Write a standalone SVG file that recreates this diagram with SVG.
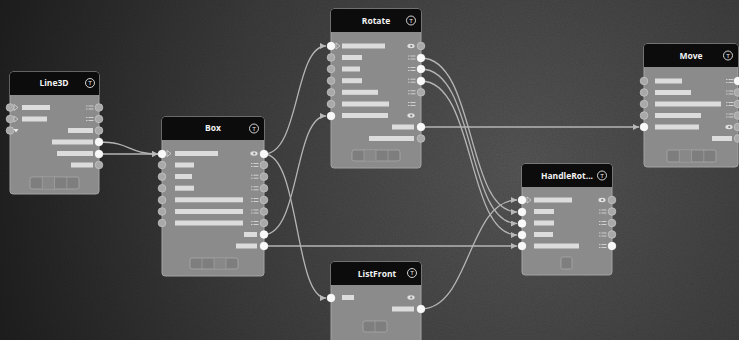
<svg xmlns="http://www.w3.org/2000/svg" xmlns:xlink="http://www.w3.org/1999/xlink" width="739" height="340" viewBox="0 0 739 340">
<defs>
<radialGradient id="bg" cx="520" cy="170" r="560" gradientUnits="userSpaceOnUse">
<stop offset="0" stop-color="#545454"/>
<stop offset="0.55" stop-color="#3a3a3a"/>
<stop offset="1" stop-color="#1c1c1c"/>
</radialGradient>
<filter id="noise" x="0" y="0" width="100%" height="100%">
<feTurbulence type="fractalNoise" baseFrequency="0.9" numOctaves="2" seed="3"/>
<feColorMatrix type="matrix" values="0 0 0 0 0  0 0 0 0 0  0 0 0 0 0  0 0 0 -1.6 1.05"/>
</filter>
<marker id="arr" markerUnits="userSpaceOnUse" markerWidth="7" markerHeight="7" refX="6" refY="3" orient="auto">
<path d="M0,0 L6,3 L0,6 z" fill="#b8b8b8"/>
</marker>
<g id="list">
<rect x="0" y="-2" width="1.5" height="1" fill="#d0d0d0"/>
<rect x="2.5" y="-2" width="5" height="1" fill="#d0d0d0"/>
<rect x="0" y="1" width="1.5" height="1" fill="#d0d0d0"/>
<rect x="2.5" y="1" width="5" height="1" fill="#d0d0d0"/>
</g>
<g id="eye">
<ellipse cx="0" cy="0" rx="3.6" ry="2.2" fill="#e0e0e0"/>
<circle cx="0.3" cy="0" r="1.1" fill="#777"/>
</g>
<path id="tri" d="M-2,-3 L2,0 L-2,3 z" fill="none" stroke="#d8d8d8" stroke-width="0.8"/>
</defs>
<style>
.node{fill:#8b8b8b;stroke:#a3a3a3;stroke-width:1}
.hdr{fill:#0c0c0c}
.title{font-family:"Open Sans","Liberation Sans",sans-serif;font-size:8.5px;font-weight:bold;fill:#f2f2f2;text-anchor:middle}
.ticon{fill:none;stroke:#e8e8e8;stroke-width:0.9}
.tt{font-family:"Liberation Sans",sans-serif;font-size:6px;fill:#e8e8e8;text-anchor:middle}
.bar{fill:#dcdcdc}
.p{fill:#a9a9a9;stroke:#c4c4c4;stroke-width:0.8}
.pw{fill:#f8f8f8;stroke:#ffffff;stroke-width:0.8}
.foot{fill:#7e7e7e;stroke:#a8a8a8;stroke-width:0.8}
.fc{fill:#888888}
.wire{fill:none;stroke:#b5b5b5;stroke-width:1.3}
</style>
<rect x="0" y="0" width="739" height="340" fill="url(#bg)"/>
<rect x="0" y="0" width="739" height="340" filter="url(#noise)" opacity="0.12"/>

<g id="connectors">
<path class="wire" d="M99,142 C131,142 128,154 158,154" marker-end="url(#arr)"/>
<path class="wire" d="M99,154 L158,154" marker-end="url(#arr)"/>
<path class="wire" d="M264,154 C300,154 294,46 326,46" marker-end="url(#arr)"/>
<path class="wire" d="M264,154 C300,154 294,298 326,298" marker-end="url(#arr)"/>
<path class="wire" d="M264,234.5 C300,234.5 294,116 326,116" marker-end="url(#arr)"/>
<path class="wire" d="M264,246 L517,246" marker-end="url(#arr)"/>
<path class="wire" d="M421,127 L639,127" marker-end="url(#arr)"/>
<path class="wire" d="M421,58 C476,58 466,212 517,212" marker-end="url(#arr)"/>
<path class="wire" d="M421,69 C476,69 466,223.5 517,223.5" marker-end="url(#arr)"/>
<path class="wire" d="M421,81 C476,81 466,235 517,235" marker-end="url(#arr)"/>
<path class="wire" d="M421,309 C470,309 468,200 517,200" marker-end="url(#arr)"/>
</g>

<g id="line3d">
<rect class="node" x="10" y="72" width="89" height="122" rx="3"/>
<path class="hdr" d="M10,95 V75 a3,3 0 0 1 3,-3 H96 a3,3 0 0 1 3,3 V95 z"/>
<text class="title" x="54" y="86">Line3D</text>
<circle class="ticon" cx="90" cy="83" r="4.5"/><text class="tt" x="90" y="85.2">T</text>
<rect class="bar" x="22" y="105" width="28" height="5"/>
<rect class="bar" x="22" y="116.5" width="25" height="5"/>
<use xlink:href="#tri" x="16" y="107.5"/>
<use xlink:href="#tri" x="16" y="119"/>
<path d="M13.5,129 L18.5,129 L16,132.5 z" fill="#e8e8e8"/>
<rect class="bar" x="68" y="128" width="25" height="5"/>
<rect class="bar" x="52" y="139.5" width="41" height="5"/>
<rect class="bar" x="57" y="151" width="36" height="5"/>
<rect class="bar" x="71" y="162.5" width="22" height="5"/>
<use xlink:href="#list" x="86" y="107.5"/>
<use xlink:href="#list" x="86" y="119"/>
<circle class="p" cx="10" cy="107.5" r="3.8"/>
<circle class="p" cx="10" cy="119" r="3.8"/>
<circle class="p" cx="10" cy="130.5" r="3.8"/>
<circle class="p" cx="99" cy="107.5" r="3.8"/>
<circle class="p" cx="99" cy="119" r="3.8"/>
<circle class="p" cx="99" cy="130.5" r="3.8"/>
<circle class="pw" cx="99" cy="142" r="3.8"/>
<circle class="pw" cx="99" cy="154" r="3.8"/>
<circle class="p" cx="99" cy="165" r="3.8"/>
<rect class="foot" x="30" y="177" width="49" height="12" rx="2"/>
<rect class="fc" x="42.3" y="177.5" width="12.2" height="11"/>
<line x1="42.3" y1="177" x2="42.3" y2="189" stroke="#a8a8a8" stroke-width="0.6"/>
<line x1="54.5" y1="177" x2="54.5" y2="189" stroke="#a8a8a8" stroke-width="0.6"/>
<line x1="66.8" y1="177" x2="66.8" y2="189" stroke="#a8a8a8" stroke-width="0.6"/>
</g>

<g id="box">
<rect class="node" x="162" y="117" width="102" height="159" rx="3"/>
<path class="hdr" d="M162,140 V120 a3,3 0 0 1 3,-3 H261 a3,3 0 0 1 3,3 V140 z"/>
<text class="title" x="213" y="131">Box</text>
<circle class="ticon" cx="254" cy="128.5" r="4.5"/><text class="tt" x="254" y="130.7">T</text>
<use xlink:href="#tri" x="169" y="153.5"/>
<rect class="bar" x="175" y="151" width="43" height="5"/>
<rect class="bar" x="175" y="162.5" width="19" height="5"/>
<rect class="bar" x="175" y="174" width="17" height="5"/>
<rect class="bar" x="175" y="185.7" width="19" height="5"/>
<rect class="bar" x="175" y="197.3" width="68" height="5"/>
<rect class="bar" x="175" y="209" width="68" height="5"/>
<rect class="bar" x="175" y="220.5" width="68" height="5"/>
<rect class="bar" x="244" y="232" width="13" height="5"/>
<rect class="bar" x="236" y="243.5" width="21" height="5"/>
<use xlink:href="#eye" x="254" y="153.5"/>
<use xlink:href="#list" x="251" y="165"/>
<use xlink:href="#list" x="251" y="176.7"/>
<use xlink:href="#list" x="251" y="188.3"/>
<use xlink:href="#list" x="251" y="200"/>
<use xlink:href="#list" x="251" y="211.5"/>
<use xlink:href="#list" x="251" y="223"/>
<circle class="pw" cx="162" cy="154" r="3.8"/>
<circle class="p" cx="162" cy="165" r="3.8"/>
<circle class="p" cx="162" cy="176.7" r="3.8"/>
<circle class="p" cx="162" cy="188.3" r="3.8"/>
<circle class="p" cx="162" cy="200" r="3.8"/>
<circle class="p" cx="162" cy="211.5" r="3.8"/>
<circle class="p" cx="162" cy="223" r="3.8"/>
<circle class="pw" cx="264" cy="154" r="3.8"/>
<circle class="p" cx="264" cy="165" r="3.8"/>
<circle class="p" cx="264" cy="176.7" r="3.8"/>
<circle class="p" cx="264" cy="188.3" r="3.8"/>
<circle class="p" cx="264" cy="200" r="3.8"/>
<circle class="p" cx="264" cy="211.5" r="3.8"/>
<circle class="p" cx="264" cy="223" r="3.8"/>
<circle class="pw" cx="264" cy="234.5" r="3.8"/>
<circle class="pw" cx="264" cy="246" r="3.8"/>
<rect class="foot" x="190" y="258" width="48" height="11" rx="2"/>
<rect class="fc" x="214" y="258.5" width="12" height="10"/>
<line x1="202" y1="258" x2="202" y2="269" stroke="#a8a8a8" stroke-width="0.6"/>
<line x1="214" y1="258" x2="214" y2="269" stroke="#a8a8a8" stroke-width="0.6"/>
<line x1="226" y1="258" x2="226" y2="269" stroke="#a8a8a8" stroke-width="0.6"/>
</g>

<g id="rotate">
<rect class="node" x="331" y="9" width="90" height="159" rx="3"/>
<path class="hdr" d="M331,32 V12 a3,3 0 0 1 3,-3 H418 a3,3 0 0 1 3,3 V32 z"/>
<text class="title" x="376" y="23.5">Rotate</text>
<circle class="ticon" cx="411" cy="20.5" r="4.5"/><text class="tt" x="411" y="22.7">T</text>
<use xlink:href="#tri" x="338" y="46"/>
<rect class="bar" x="342" y="43.5" width="43" height="5"/>
<rect class="bar" x="342" y="55" width="20" height="5"/>
<rect class="bar" x="342" y="66.5" width="18" height="5"/>
<rect class="bar" x="342" y="78.2" width="20" height="5"/>
<rect class="bar" x="342" y="89.8" width="36" height="5"/>
<rect class="bar" x="342" y="101.5" width="47" height="5"/>
<rect class="bar" x="342" y="113" width="46" height="5"/>
<rect class="bar" x="392" y="124.5" width="22" height="5"/>
<rect class="bar" x="369" y="136" width="45" height="5"/>
<use xlink:href="#eye" x="411" y="46"/>
<use xlink:href="#list" x="408" y="57.5"/>
<use xlink:href="#list" x="408" y="69"/>
<use xlink:href="#list" x="408" y="80.7"/>
<use xlink:href="#list" x="408" y="92.3"/>
<use xlink:href="#list" x="408" y="104"/>
<use xlink:href="#eye" x="411" y="115.5"/>
<circle class="pw" cx="331" cy="46" r="3.8"/>
<circle class="p" cx="331" cy="57.5" r="3.8"/>
<circle class="p" cx="331" cy="69" r="3.8"/>
<circle class="p" cx="331" cy="80.7" r="3.8"/>
<circle class="p" cx="331" cy="92.3" r="3.8"/>
<circle class="p" cx="331" cy="104" r="3.8"/>
<circle class="pw" cx="331" cy="116" r="3.8"/>
<circle class="p" cx="421" cy="46" r="3.8"/>
<circle class="pw" cx="421" cy="58" r="3.8"/>
<circle class="pw" cx="421" cy="69" r="3.8"/>
<circle class="pw" cx="421" cy="81" r="3.8"/>
<circle class="p" cx="421" cy="92.3" r="3.8"/>
<circle class="pw" cx="421" cy="127" r="3.8"/>
<circle class="p" cx="421" cy="138.5" r="3.8"/>
<rect class="foot" x="352" y="150" width="48" height="11" rx="2"/>
<rect class="fc" x="364" y="150.5" width="12" height="10"/>
<line x1="364" y1="150" x2="364" y2="161" stroke="#a8a8a8" stroke-width="0.6"/>
<line x1="376" y1="150" x2="376" y2="161" stroke="#a8a8a8" stroke-width="0.6"/>
<line x1="388" y1="150" x2="388" y2="161" stroke="#a8a8a8" stroke-width="0.6"/>
</g>

<g id="move">
<rect class="node" x="644" y="44" width="94" height="123" rx="3"/>
<path class="hdr" d="M644,67 V47 a3,3 0 0 1 3,-3 H735 a3,3 0 0 1 3,3 V67 z"/>
<text class="title" x="691" y="58.5">Move</text>
<circle class="ticon" cx="728" cy="55.5" r="4.5"/><text class="tt" x="728" y="57.7">T</text>
<rect class="bar" x="655" y="78.5" width="27" height="5"/>
<rect class="bar" x="655" y="90" width="36" height="5"/>
<rect class="bar" x="655" y="101.5" width="66" height="5"/>
<rect class="bar" x="655" y="113" width="46" height="5"/>
<rect class="bar" x="655" y="124.5" width="44" height="5"/>
<rect class="bar" x="712" y="136" width="20" height="5"/>
<use xlink:href="#list" x="726" y="81"/>
<use xlink:href="#list" x="726" y="92.5"/>
<use xlink:href="#list" x="726" y="104"/>
<use xlink:href="#list" x="726" y="115.5"/>
<use xlink:href="#eye" x="729" y="127"/>
<circle class="p" cx="644" cy="81" r="3.8"/>
<circle class="p" cx="644" cy="92.5" r="3.8"/>
<circle class="p" cx="644" cy="104" r="3.8"/>
<circle class="p" cx="644" cy="115.5" r="3.8"/>
<circle class="pw" cx="644" cy="127" r="3.8"/>
<circle class="pw" cx="738" cy="81" r="3.8"/>
<circle class="p" cx="738" cy="92.5" r="3.8"/>
<circle class="p" cx="738" cy="104" r="3.8"/>
<circle class="p" cx="738" cy="115.5" r="3.8"/>
<circle class="p" cx="738" cy="127" r="3.8"/>
<circle class="p" cx="738" cy="138.5" r="3.8"/>
<rect class="foot" x="667" y="150" width="49" height="12" rx="2"/>
<rect class="fc" x="679.3" y="150.5" width="12.2" height="11"/>
<line x1="679.3" y1="150" x2="679.3" y2="162" stroke="#a8a8a8" stroke-width="0.6"/>
<line x1="691.5" y1="150" x2="691.5" y2="162" stroke="#a8a8a8" stroke-width="0.6"/>
<line x1="703.8" y1="150" x2="703.8" y2="162" stroke="#a8a8a8" stroke-width="0.6"/>
</g>

<g id="handlerot">
<rect class="node" x="522" y="164" width="90" height="111" rx="3"/>
<path class="hdr" d="M522,187 V167 a3,3 0 0 1 3,-3 H609 a3,3 0 0 1 3,3 V187 z"/>
<text class="title" x="567" y="178.5">HandleRot...</text>
<circle class="ticon" cx="602" cy="175.5" r="4.5"/><text class="tt" x="602" y="177.7">T</text>
<use xlink:href="#tri" x="529" y="200"/>
<rect class="bar" x="534" y="197.5" width="38" height="5"/>
<rect class="bar" x="534" y="209" width="20" height="5"/>
<rect class="bar" x="534" y="220.5" width="20" height="5"/>
<rect class="bar" x="534" y="232" width="19" height="5"/>
<rect class="bar" x="534" y="243.5" width="45" height="5"/>
<use xlink:href="#eye" x="602" y="200"/>
<use xlink:href="#list" x="599" y="211.5"/>
<use xlink:href="#list" x="599" y="223"/>
<use xlink:href="#list" x="599" y="234.5"/>
<use xlink:href="#list" x="599" y="246"/>
<circle class="pw" cx="522" cy="200" r="3.8"/>
<circle class="pw" cx="522" cy="212" r="3.8"/>
<circle class="pw" cx="522" cy="223.5" r="3.8"/>
<circle class="pw" cx="522" cy="235" r="3.8"/>
<circle class="pw" cx="522" cy="246" r="3.8"/>
<circle class="p" cx="612" cy="200" r="3.8"/>
<circle class="p" cx="612" cy="211.5" r="3.8"/>
<circle class="p" cx="612" cy="223" r="3.8"/>
<circle class="p" cx="612" cy="234.5" r="3.8"/>
<circle class="pw" cx="612" cy="246" r="3.8"/>
<rect class="foot" x="561" y="257" width="11" height="12" rx="1.5"/>
</g>

<g id="listfront">
<rect class="node" x="331" y="262" width="90" height="86" rx="3"/>
<path class="hdr" d="M331,285 V265 a3,3 0 0 1 3,-3 H418 a3,3 0 0 1 3,3 V285 z"/>
<text class="title" x="377" y="276.5">ListFront</text>
<circle class="ticon" cx="412" cy="273" r="4.5"/><text class="tt" x="412" y="275.2">T</text>
<rect class="bar" x="342" y="295" width="12" height="5"/>
<rect class="bar" x="392" y="306.5" width="22" height="5"/>
<use xlink:href="#eye" x="411" y="297.5"/>
<circle class="pw" cx="331" cy="298" r="3.8"/>
<circle class="pw" cx="421" cy="309" r="3.8"/>
<rect class="foot" x="363" y="321" width="24" height="11" rx="2"/>
<line x1="375" y1="321" x2="375" y2="332" stroke="#a8a8a8" stroke-width="0.6"/>
</g>
</svg>
